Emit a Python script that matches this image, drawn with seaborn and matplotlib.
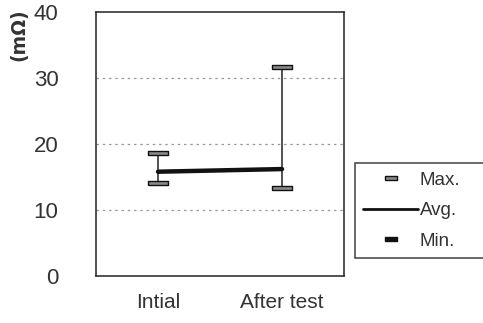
import matplotlib
matplotlib.use("Agg")
import matplotlib.pyplot as plt
from matplotlib.lines import Line2D
import seaborn as sns
import pandas as pd

categories = ["Intial", "After test"]
max_vals = [18.6, 31.6]
avg_vals = [15.8, 16.2]
min_vals = [14.1, 13.4]
y_ticks = [0, 10, 20, 30, 40]

sns.set_theme(style="white")
plt.rcParams["font.family"] = ["Liberation Sans", "DejaVu Sans"]

df = pd.DataFrame({"cond": categories, "max": max_vals, "avg": avg_vals, "min": min_vals})
df["pos"] = range(len(df))

fig = plt.figure(figsize=(4.83, 3.23), dpi=100)
ax = fig.add_axes([0.1988, 0.1455, 0.5135, 0.8175])

# range whiskers
ax.vlines(df["pos"], df["min"], df["max"], color="#222222", lw=1.1, zorder=2)

# average line
sns.lineplot(data=df, x="pos", y="avg", ax=ax, color="#111111", lw=3.2, zorder=3, legend=False)

# max / min caps as flat rectangles
cap = [(-2, -0.5), (2, -0.5), (2, 0.5), (-2, 0.5), (-2, -0.5)]
for col in ["max", "min"]:
    sns.scatterplot(data=df, x="pos", y=col, ax=ax, marker=cap, s=200,
                    color="#8a8a8a", edgecolor="#111111", linewidth=1.0, zorder=4, legend=False)

ax.set_xlim(-0.5, 1.5)
ax.set_ylim(0, 40)
ax.set_xticks(df["pos"])
ax.set_xticklabels(categories)
ax.set_yticks(y_ticks)
ax.set_xlabel("")
ax.set_ylabel("")

for yv in y_ticks[1:-1]:
    ax.axhline(yv, color="#9a9a9a", lw=0.9, ls=(0, (2, 3)), zorder=1)

for s in ax.spines.values():
    s.set_visible(True)
    s.set_color("#222222")
    s.set_linewidth(1.1)

ax.tick_params(axis="y", direction="inout", length=10, width=1, color="#222222",
               labelsize=16, labelcolor="#333333", pad=22)
ax.tick_params(axis="x", direction="in", length=5, width=1, color="#222222",
               labelsize=15, labelcolor="#333333", pad=12)

fig.text(0.04, 0.975, "(m\u03a9)", rotation=90, ha="center", va="top",
         fontsize=13.5, fontweight="bold", color="#333333", family="DejaVu Sans")

handles = [
    Line2D([], [], ls="none", marker=cap, markersize=9, markerfacecolor="#8a8a8a",
           markeredgecolor="#111111", markeredgewidth=1.0),
    Line2D([], [], color="#111111", lw=2.0),
    Line2D([], [], ls="none", marker=cap, markersize=9,
           markerfacecolor="#111111", markeredgecolor="#111111"),
]
leg = fig.legend(handles, ["Max.", "Avg.", "Min."], loc="upper left",
                 bbox_to_anchor=(355 / 483, 1 - 163 / 323, 140 / 483, 0.0),
                 mode="expand", frameon=True,
                 fontsize=13.5, handlelength=2.9, handletextpad=0.1,
                 labelspacing=0.72, borderpad=0.45, borderaxespad=0, fancybox=False,
                 labelcolor="#333333")
leg.get_frame().set_edgecolor("#111111")
leg.get_frame().set_linewidth(1.1)

fig.savefig("out.png", dpi=100)
